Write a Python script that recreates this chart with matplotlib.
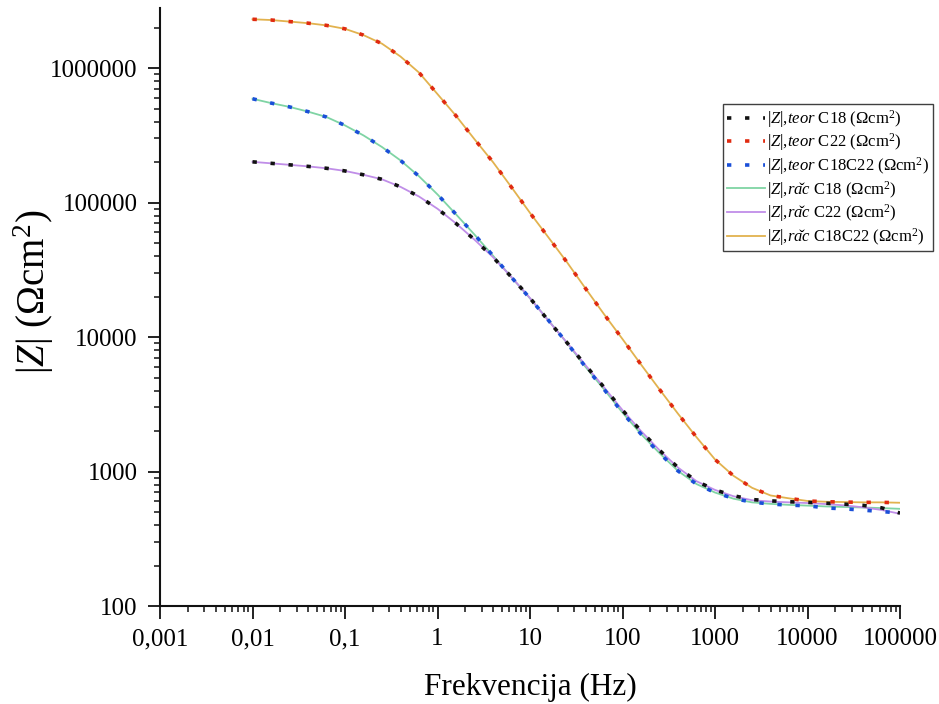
import matplotlib
matplotlib.use("Agg")
import matplotlib.pyplot as plt
from matplotlib.ticker import FixedLocator, LogLocator, NullFormatter

plt.rcParams['font.family'] = ['Liberation Serif', 'DejaVu Serif']
plt.rcParams['mathtext.fontset'] = 'custom'
plt.rcParams['mathtext.rm'] = 'Liberation Serif'
plt.rcParams['mathtext.it'] = 'Liberation Serif:italic'
plt.rcParams['mathtext.bf'] = 'Liberation Serif:bold'

# Frequencies (Hz)
freq = [0.01, 0.01585, 0.02512, 0.03981, 0.0631,
        0.1, 0.1585, 0.2512, 0.3981, 0.631,
        1.0, 1.585, 2.512, 3.981, 6.31,
        10.0, 15.85, 25.12, 39.81, 63.1,
        100.0, 158.5, 251.2, 398.1, 631.0,
        1000.0, 1585.0, 2512.0, 3981.0, 6310.0,
        10000.0, 15850.0, 25120.0, 39810.0, 63100.0,
        100000.0]

# |Z| teor C18 (black dots)
z_teor_c18 = [2.01e5, 1.96e5, 1.91e5, 1.86e5, 1.80e5,
              1.72e5, 1.61e5, 1.49e5, 1.31e5, 1.11e5,
              9.0e4, 7.0e4, 5.30e4, 3.93e4, 2.79e4,
              1.95e4, 1.32e4, 9.08e3, 6.17e3, 4.23e3,
              2.86e3, 2.00e3, 1.44e3, 1.07e3, 847,
              730, 661, 619, 605, 596,
              590, 581, 572, 560, 537,
              491]
# |Z| teor C22 (red dots)
z_teor_c22 = [2.31e6, 2.28e6, 2.22e6, 2.16e6, 2.08e6,
              1.96e6, 1.76e6, 1.52e6, 1.22e6, 9.27e5,
              6.41e5, 4.42e5, 2.96e5, 2.00e5, 1.30e5,
              8.38e4, 5.50e4, 3.60e4, 2.30e4, 1.48e4,
              9.66e3, 6.25e3, 4.08e3, 2.69e3, 1.80e3,
              1.23e3, 929, 757, 664, 632,
              604, 596, 593, 590, 590,
              586]
# |Z| teor C18C22 (blue dots)
z_teor_c18c22 = [5.92e5, 5.50e5, 5.15e5, 4.75e5, 4.33e5,
                 3.75e5, 3.16e5, 2.59e5, 2.06e5, 1.57e5,
                 1.15e5, 8.18e4, 5.78e4, 4.03e4, 2.78e4,
                 1.94e4, 1.33e4, 9.04e3, 6.00e3, 4.09e3,
                 2.74e3, 1.90e3, 1.37e3, 1.01e3, 807,
                 698, 631, 592, 574, 562,
                 557, 536, 528, 516, 505,
                 490]
# |Z| rac C18 (green line)
z_rac_c18 = [5.92e5, 5.50e5, 5.15e5, 4.75e5, 4.33e5,
             3.75e5, 3.16e5, 2.59e5, 2.06e5, 1.57e5,
             1.15e5, 8.18e4, 5.78e4, 4.03e4, 2.78e4,
             1.94e4, 1.33e4, 9.04e3, 6.00e3, 4.09e3,
             2.74e3, 1.90e3, 1.37e3, 1.01e3, 807,
             698, 628, 590, 575, 565,
             558, 550, 545, 540, 535,
             528]
# |Z| rac C22 (purple line)
z_rac_c22 = [2.01e5, 1.96e5, 1.91e5, 1.86e5, 1.80e5,
             1.72e5, 1.61e5, 1.49e5, 1.31e5, 1.11e5,
             9.0e4, 7.0e4, 5.30e4, 3.93e4, 2.79e4,
             1.95e4, 1.32e4, 9.08e3, 6.17e3, 4.23e3,
             2.86e3, 2.00e3, 1.44e3, 1.07e3, 847,
             730, 655, 612, 598, 590,
             583, 573, 560, 542, 518,
             485]
# |Z| rac C18C22 (orange line)
z_rac_c18c22 = z_teor_c22

x_ticks = [0.001, 0.01, 0.1, 1, 10, 100, 1000, 10000, 100000]
x_tick_labels = ["0,001", "0,01", "0,1", "1", "10", "100", "1000", "10000", "100000"]
y_ticks = [100, 1000, 10000, 100000, 1000000]
y_tick_labels = ["100", "1000", "10000", "100000", "1000000"]

fig = plt.figure(figsize=(9.39, 7.04), dpi=100)
ax = fig.add_axes([0.1704, 0.1392, 0.7881, 0.8494])
ax.set_xscale('log')
ax.set_yscale('log')

dot_kw = dict(linewidth=2.6, dashes=(1.2, 3.8), dash_capstyle='butt')
ax.plot(freq, z_teor_c18, color='#111111', label=r'$|Z|$,$\mathit{teor}$ C18 ($\Omega$cm$^2$)', zorder=4, **dot_kw)
ax.plot(freq, z_teor_c22, color='#e02a10', label=r'$|Z|$,$\mathit{teor}$ C22 ($\Omega$cm$^2$)', zorder=4, **dot_kw)
ax.plot(freq, z_teor_c18c22, color='#1a4fd8', label=r'$|Z|$,$\mathit{teor}$ C18C22 ($\Omega$cm$^2$)', zorder=4, **dot_kw)

ax.plot(freq, z_rac_c18, color='#7fd4a4', lw=1.3, label=r'$|Z|$,$\mathit{ra\check{c}}$ C18 ($\Omega$cm$^2$)', zorder=3)
ax.plot(freq, z_rac_c22, color='#c08ee8', lw=1.3, label=r'$|Z|$,$\mathit{ra\check{c}}$ C22 ($\Omega$cm$^2$)', zorder=3)
ax.plot(freq, z_rac_c18c22, color='#e2b24e', lw=1.3, label=r'$|Z|$,$\mathit{ra\check{c}}$ C18C22 ($\Omega$cm$^2$)', zorder=3)

ax.set_xlim(0.001, 100000)
ax.set_ylim(100, 2.8e6)

ax.xaxis.set_major_locator(FixedLocator(x_ticks))
ax.set_xticklabels(x_tick_labels)
ax.yaxis.set_major_locator(FixedLocator(y_ticks))
ax.set_yticklabels(y_tick_labels)
ax.xaxis.set_minor_locator(LogLocator(base=10, subs=[2, 3, 4, 5, 6, 7, 8, 9], numticks=20))
ax.yaxis.set_minor_locator(LogLocator(base=10, subs=[2, 3, 4, 5, 6, 7, 8, 9], numticks=20))
ax.xaxis.set_minor_formatter(NullFormatter())
ax.yaxis.set_minor_formatter(NullFormatter())

for s in ['top', 'right']:
    ax.spines[s].set_visible(False)
for s in ['left', 'bottom']:
    ax.spines[s].set_linewidth(1.5)
    ax.spines[s].set_color('#111111')

ax.tick_params(which='major', direction='out', length=9, width=1.3, labelsize=18, pad=7, color='#111111')
ax.tick_params(which='minor', direction='out', length=4.5, width=1.1, color='#111111')

ax.set_xlabel('Frekvencija (Hz)', fontsize=22.5, labelpad=16)
ax.set_ylabel(r'$|Z|$ ($\Omega$cm$^2$)', fontsize=28)
ax.yaxis.label.set_va('center')
ax.yaxis.set_label_coords(-0.170, 0.525)

leg = ax.legend(loc='upper left', bbox_to_anchor=(0.761, 0.839), borderaxespad=0,
                fontsize=12.0, frameon=True, fancybox=False, framealpha=1,
                edgecolor='#404040', handlelength=2.3, handletextpad=0.1,
                labelspacing=0.1, borderpad=0.22, handleheight=0.7)
leg.get_frame().set_linewidth(1.0)

fig.savefig('out.png', dpi=100)
